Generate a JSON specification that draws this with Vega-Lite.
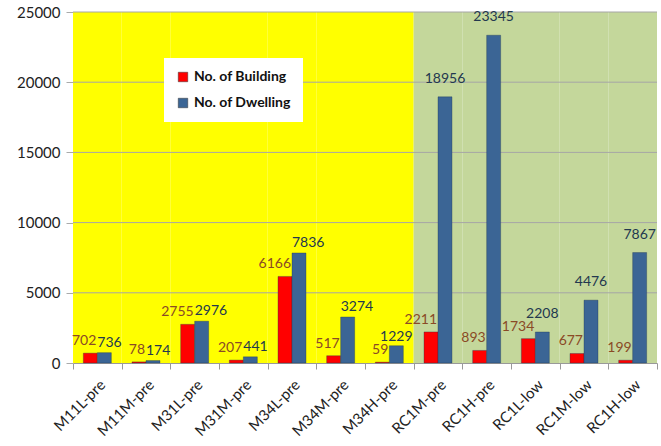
{
  "$schema": "https://vega.github.io/schema/vega-lite/v6.json",
  "width": 584,
  "height": 351,
  "autosize": "none",
  "padding": {"left": 73, "top": 12, "right": 4, "bottom": 83},
  "background": "white",
  "config": {"view": {"stroke": null}, "font": "Lato"},
  "datasets": {
    "bg": [
      {"cat": "M11L-pre", "region": "pre-yellow"},
      {"cat": "M11M-pre", "region": "pre-yellow"},
      {"cat": "M31L-pre", "region": "pre-yellow"},
      {"cat": "M31M-pre", "region": "pre-yellow"},
      {"cat": "M34L-pre", "region": "pre-yellow"},
      {"cat": "M34M-pre", "region": "pre-yellow"},
      {"cat": "M34H-pre", "region": "pre-yellow"},
      {"cat": "RC1M-pre", "region": "green"},
      {"cat": "RC1H-pre", "region": "green"},
      {"cat": "RC1L-low", "region": "green"},
      {"cat": "RC1M-low", "region": "green"},
      {"cat": "RC1H-low", "region": "green"}
    ],
    "grid": [{"v": 5000}, {"v": 10000}, {"v": 15000}, {"v": 20000}, {"v": 25000}],
    "vals": [
      {"cat": "M11L-pre", "type": "No. of Building", "value": 702},
      {"cat": "M11L-pre", "type": "No. of Dwelling", "value": 736},
      {"cat": "M11M-pre", "type": "No. of Building", "value": 78},
      {"cat": "M11M-pre", "type": "No. of Dwelling", "value": 174},
      {"cat": "M31L-pre", "type": "No. of Building", "value": 2755},
      {"cat": "M31L-pre", "type": "No. of Dwelling", "value": 2976},
      {"cat": "M31M-pre", "type": "No. of Building", "value": 207},
      {"cat": "M31M-pre", "type": "No. of Dwelling", "value": 441},
      {"cat": "M34L-pre", "type": "No. of Building", "value": 6166},
      {"cat": "M34L-pre", "type": "No. of Dwelling", "value": 7836},
      {"cat": "M34M-pre", "type": "No. of Building", "value": 517},
      {"cat": "M34M-pre", "type": "No. of Dwelling", "value": 3274},
      {"cat": "M34H-pre", "type": "No. of Building", "value": 59},
      {"cat": "M34H-pre", "type": "No. of Dwelling", "value": 1229},
      {"cat": "RC1M-pre", "type": "No. of Building", "value": 2211},
      {"cat": "RC1M-pre", "type": "No. of Dwelling", "value": 18956},
      {"cat": "RC1H-pre", "type": "No. of Building", "value": 893},
      {"cat": "RC1H-pre", "type": "No. of Dwelling", "value": 23345},
      {"cat": "RC1L-low", "type": "No. of Building", "value": 1734},
      {"cat": "RC1L-low", "type": "No. of Dwelling", "value": 2208},
      {"cat": "RC1M-low", "type": "No. of Building", "value": 677},
      {"cat": "RC1M-low", "type": "No. of Dwelling", "value": 4476},
      {"cat": "RC1H-low", "type": "No. of Building", "value": 199},
      {"cat": "RC1H-low", "type": "No. of Dwelling", "value": 7867}
    ]
  },
  "layer": [
    {
      "data": {"name": "bg"},
      "mark": {"type": "bar", "width": {"band": 1}},
      "encoding": {
        "x": {"field": "cat", "type": "nominal", "sort": null,
              "scale": {"paddingInner": 0, "paddingOuter": 0},
              "axis": {"title": null, "labelAngle": -45, "labelFontSize": 15, "labelColor": "#222",
                       "tickBand": "extent", "domainColor": "#999", "tickColor": "#999", "tickSize": 6,
                       "labelPadding": 8}},
        "y": {"datum": 25000, "type": "quantitative",
              "scale": {"domain": [0, 25000], "nice": false},
              "axis": {"title": null, "values": [0, 5000, 10000, 15000, 20000, 25000], "grid": false,
                       "format": "d", "labelFontSize": 15, "labelColor": "#222", "domainColor": "#aaa",
                       "tickColor": "#aaa", "tickSize": 7, "labelPadding": 6}},
        "fill": {"field": "region", "type": "nominal", "legend": null,
                 "scale": {"domain": ["pre-yellow", "green"], "range": ["#ffff00", "#c4d79b"]}}
      }
    },
    {
      "data": {"name": "grid"},
      "mark": {"type": "rule", "color": "#a6a6a6", "strokeWidth": 1},
      "encoding": {"y": {"field": "v", "type": "quantitative"}}
    },
    {
      "data": {"name": "vals"},
      "mark": {"type": "bar", "stroke": "#1f3550", "strokeWidth": 0.6, "strokeOpacity": 0.6},
      "encoding": {
        "x": {"field": "cat", "type": "nominal", "sort": null},
        "xOffset": {"field": "type", "type": "nominal",
                    "scale": {"paddingInner": 0, "paddingOuter": 0.74}},
        "y": {"field": "value", "type": "quantitative"},
        "color": {"field": "type", "type": "nominal",
                  "scale": {"domain": ["No. of Building", "No. of Dwelling"], "range": ["#ff0000", "#3b6595"]},
                  "legend": {"title": null, "orient": "none", "legendX": 91, "legendY": 46,
                             "fillColor": "white", "padding": 12, "labelFontSize": 14,
                             "labelFontWeight": "bold", "labelColor": "#111", "symbolType": "square",
                             "symbolSize": 90, "rowPadding": 12, "labelLimit": 200,
                             "symbolStrokeWidth": 0.5, "symbolStrokeColor": "#333"}}
      }
    },
    {
      "data": {"name": "vals"},
      "transform": [{"filter": "datum.type == 'No. of Building'"}],
      "mark": {"type": "text", "dy": -8, "dx": 6, "align": "right", "baseline": "alphabetic", "fontSize": 14, "color": "#8a4a26"},
      "encoding": {
        "x": {"field": "cat", "type": "nominal", "sort": null},
        "xOffset": {"field": "type", "type": "nominal"},
        "y": {"field": "value", "type": "quantitative"},
        "text": {"field": "value", "type": "quantitative", "format": "d"}
      }
    },
    {
      "data": {"name": "vals"},
      "transform": [{"filter": "datum.type == 'No. of Dwelling' && indexof(['M11L-pre','M11M-pre','M31L-pre','M31M-pre','M34L-pre','M34M-pre'], datum.cat) >= 0"}],
      "mark": {"type": "text", "dy": -6, "dx": -7, "align": "left", "baseline": "alphabetic", "fontSize": 14, "color": "#23384f"},
      "encoding": {
        "x": {"field": "cat", "type": "nominal", "sort": null},
        "xOffset": {"field": "type", "type": "nominal"},
        "y": {"field": "value", "type": "quantitative"},
        "text": {"field": "value", "type": "quantitative", "format": "d"}
      }
    },
    {
      "data": {"name": "vals"},
      "transform": [{"filter": "datum.type == 'No. of Dwelling' && datum.cat == 'M34H-pre'"}],
      "mark": {"type": "text", "dy": -5, "align": "center", "baseline": "alphabetic", "fontSize": 14, "color": "#23384f"},
      "encoding": {
        "x": {"field": "cat", "type": "nominal", "sort": null},
        "xOffset": {"field": "type", "type": "nominal"},
        "y": {"field": "value", "type": "quantitative"},
        "text": {"field": "value", "type": "quantitative", "format": "d"}
      }
    },
    {
      "data": {"name": "vals"},
      "transform": [{"filter": "datum.type == 'No. of Dwelling' && indexof(['M11L-pre','M11M-pre','M31L-pre','M31M-pre','M34L-pre','M34M-pre','M34H-pre'], datum.cat) < 0"}],
      "mark": {"type": "text", "dy": -14, "align": "center", "baseline": "alphabetic", "fontSize": 14, "color": "#23384f"},
      "encoding": {
        "x": {"field": "cat", "type": "nominal", "sort": null},
        "xOffset": {"field": "type", "type": "nominal"},
        "y": {"field": "value", "type": "quantitative"},
        "text": {"field": "value", "type": "quantitative", "format": "d"}
      }
    }
  ]
}
